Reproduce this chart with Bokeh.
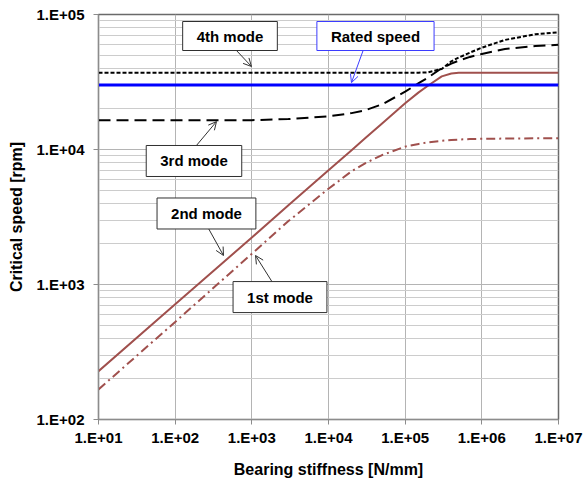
from bokeh.plotting import figure
from bokeh.models import FixedTicker, Label, Arrow, OpenHead, Range1d
from bokeh.embed import file_html
from bokeh.resources import INLINE

# ---- data ----
stiffness = [10, 100, 1e3, 3e3, 1e4, 2e4, 3e4, 5e4, 1e5, 1.5e5, 2e5, 3e5,
             4e5, 5e5, 7e5, 1e6, 2e6, 5e6, 1e7]
mode1 = [167, 528, 1690, 2950, 5120, 6900, 7900, 9100, 10500, 11000, 11300,
         11600, 11750, 11850, 11950, 12000, 12050, 12100, 12100]
mode2 = [228, 713, 2230, 3870, 7020, 9880, 12100, 15600, 22000, 26500, 29800,
         34800, 36600, 37000, 37000, 37000, 37000, 37000, 37000]
mode3 = [16500, 16500, 16500, 16800, 17600, 18600, 19500, 21600, 26800, 31000,
         34200, 40000, 43300, 45500, 48500, 51000, 55500, 58500, 59600]
mode4 = [37000, 37000, 37000, 37000, 37000, 37000, 37000, 37000, 37000, 37100,
         37300, 39500, 45000, 48000, 52200, 56800, 64800, 71500, 73800]
rated_k = [10, 1e7]
rated_speed = [30000, 30000]

x_ticks = [10, 100, 1000, 10000, 100000, 1000000, 10000000]
x_tick_labels = ["1.E+01", "1.E+02", "1.E+03", "1.E+04", "1.E+05", "1.E+06", "1.E+07"]
y_ticks = [100, 1000, 10000, 100000]
y_tick_labels = ["1.E+02", "1.E+03", "1.E+04", "1.E+05"]
y_minor = [m * d for d in (100, 1000, 10000) for m in range(2, 10)]

FONT = "Liberation Sans"
BROWN = "#a0504d"

p = figure(width=584, height=480, x_axis_type="log", y_axis_type="log",
           x_range=Range1d(10, 1e7), y_range=Range1d(100, 1e5),
           output_backend="svg", toolbar_location=None,
           min_border_left=98, min_border_right=26, min_border_top=14,
           min_border_bottom=61)
p.background_fill_color = "white"
p.border_fill_color = "white"
p.outline_line_color = "#6a6a6a"
p.outline_line_width = 1.5

p.xaxis.ticker = FixedTicker(ticks=x_ticks)
p.yaxis.ticker = FixedTicker(ticks=y_ticks, minor_ticks=y_minor)
p.xaxis.major_label_overrides = dict(zip(x_ticks, x_tick_labels))
p.yaxis.major_label_overrides = dict(zip(y_ticks, y_tick_labels))

for ax in (p.xaxis, p.yaxis):
    ax.axis_line_color = "#8c8c8c"
    ax.major_tick_line_color = "#8c8c8c"
    ax.major_tick_out = 5
    ax.major_tick_in = 0
    ax.minor_tick_out = 0
    ax.minor_tick_in = 0
    ax.major_label_text_font = FONT
    ax.major_label_text_font_size = "15px"
    ax.major_label_text_font_style = "bold"
    ax.major_label_text_color = "black"
    ax.axis_label_text_font = FONT
    ax.axis_label_text_font_size = "16px"
    ax.axis_label_text_font_style = "bold"
    ax.axis_label_text_color = "black"

p.xaxis.major_label_standoff = 4
p.yaxis.major_label_standoff = 9
p.xaxis.axis_label = "Bearing stiffness [N/mm]"
p.yaxis.axis_label = "Critical speed [rpm]"
p.xaxis.axis_label_standoff = 12
p.yaxis.axis_label_standoff = 9

p.xgrid.grid_line_color = "#b4b4b4"
p.ygrid.grid_line_color = "#b4b4b4"
p.ygrid.minor_grid_line_color = "#cccccc"
p.xgrid.minor_grid_line_color = None

# ---- series ----
p.line(stiffness, mode3, line_color="black", line_width=2, line_dash="12 6")
p.line(stiffness, mode4, line_color="black", line_width=2, line_dash="4 2")
p.line(stiffness, mode1, line_color=BROWN, line_width=2, line_dash="9 4 2 4")
p.line(stiffness, mode2, line_color=BROWN, line_width=2)
p.line(rated_k, rated_speed, line_color="#0000ff", line_width=3)

# ---- callouts ----
def callout(text, x, y, ax0, ay0, ax1, ay1, border="#303030", pad=(14, 6)):
    p.add_layout(Arrow(end=OpenHead(size=8, line_color=border, line_width=1),
                       x_start=ax0, y_start=ay0, x_end=ax1, y_end=ay1,
                       line_color=border, line_width=1))
    p.add_layout(Label(x=x, y=y, text=text, text_align="center",
                       text_baseline="middle", text_font=FONT,
                       text_font_size="15px", text_font_style="bold",
                       text_color="black", background_fill_color="white",
                       border_line_color=border, border_line_width=1,
                       padding=dict(left=pad[0], right=pad[0],
                                    top=pad[1], bottom=pad[1])))

callout("4th mode", 519, 69300, 612, 55100, 990, 41200)
callout("Rated speed", 41000, 69300, 28600, 55100, 19950, 31300,
        border="#3c3cff", pad=(14, 6))
callout("3rd mode", 176, 8220, 184, 10500, 346, 16100, pad=(14, 7))
callout("2nd mode", 256, 3357, 272, 2600, 427, 1640, pad=(14, 7))
callout("1st mode", 2329, 807, 1860, 1035, 1117, 1640, pad=(14, 7))

open("out.html", "w").write(file_html(p, INLINE))
